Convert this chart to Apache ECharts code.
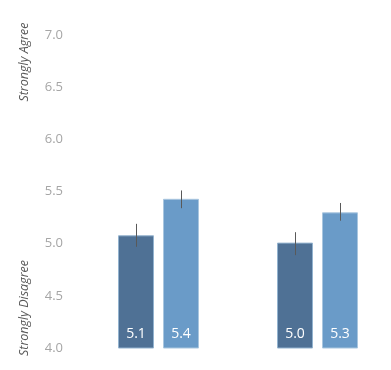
<!DOCTYPE html>
<html><head><meta charset="utf-8">
<script src="https://cdn.jsdelivr.net/npm/echarts@6/dist/echarts.min.js"></script>
<style>html,body{margin:0;padding:0;background:#fff}#c{width:391px;height:370px}</style>
</head><body><div id="c"></div>
<script>
var categories = ['Group A', 'Group B'];
var seriesA = [5.08, 5.01];
var seriesB = [5.43, 5.30];
var errA = [[4.97, 5.19], [4.89, 5.11]];
var errB = [[5.34, 5.51], [5.22, 5.39]];
var yTicks = ['4.0','4.5','5.0','5.5','6.0','6.5','7.0'];

var BAR_W = 36, BAR_GAP = 9;
var chart = echarts.init(document.getElementById('c'));
function errData(arr, side) {
  return arr.map(function (e, i) { return [i, e[0], e[1], side]; });
}
function renderErr(params, api) {
  var i = api.value(0), side = api.value(3);
  var lo = api.coord([i, api.value(1)]);
  var hi = api.coord([i, api.value(2)]);
  var x = Math.round(lo[0] + side * (BAR_W + BAR_GAP) / 2) + 0.5;
  return { type: 'line', shape: { x1: x, y1: lo[1], x2: x, y2: hi[1] },
    style: { stroke: '#595959', lineWidth: 1 } };
}
var labelStyle = { show: true, position: 'insideBottom', distance: 7, color: '#fff',
  fontSize: 14, fontFamily: 'Open Sans', formatter: function (p) { return p.value.toFixed(1); } };
chart.setOption({
  animation: false,
  grid: { left: 79, top: 35, bottom: 22, width: 318, outerBoundsMode: 'none', containLabel: false },
  xAxis: { type: 'category', data: categories, axisLine: { show: false }, axisTick: { show: false },
    axisLabel: { show: false } },
  yAxis: { type: 'value', min: 4, max: 7, interval: 0.5, splitLine: { show: false },
    axisLine: { show: false }, axisTick: { show: false },
    axisLabel: { margin: 16, color: '#a6a6a6', fontSize: 13, fontFamily: 'Open Sans',
      formatter: function (v) { return yTicks[Math.round((v - 4) / 0.5)]; } } },
  series: [
    { type: 'bar', data: seriesA, barWidth: BAR_W, barGap: (BAR_GAP / BAR_W * 100) + '%',
      itemStyle: { color: '#4f7195', borderColor: '#93b3cf', borderWidth: 1 }, label: labelStyle },
    { type: 'bar', data: seriesB, barWidth: BAR_W,
      itemStyle: { color: '#6a9bc8', borderColor: '#a9c6df', borderWidth: 1 }, label: labelStyle },
    { type: 'custom', data: errData(errA, -1), renderItem: renderErr, z: 5 },
    { type: 'custom', data: errData(errB, 1), renderItem: renderErr, z: 5 }
  ],
  graphic: [
    { type: 'text', x: 24, y: 62, rotation: Math.PI / 2,
      style: { text: 'Strongly Agree', fontSize: 12.5, fontStyle: 'italic', fontFamily: 'Open Sans',
        fill: '#595959', align: 'center', verticalAlign: 'middle' } },
    { type: 'text', x: 24, y: 308, rotation: Math.PI / 2,
      style: { text: 'Strongly Disagree', fontSize: 12.5, fontStyle: 'italic', fontFamily: 'Open Sans',
        fill: '#595959', align: 'center', verticalAlign: 'middle' } }
  ]
});
</script></body></html>
